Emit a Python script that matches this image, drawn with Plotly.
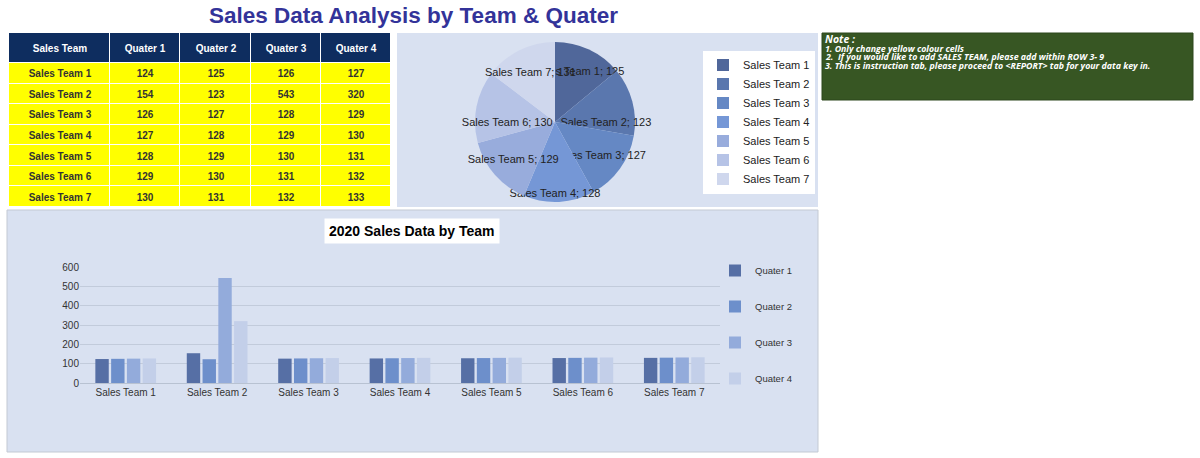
import plotly.graph_objects as go

W, H = 1200, 458

def px(x):
    return x / W

def py(y):
    return 1 - y / H

# ---------------- data ----------------
teams = ["Sales Team 1", "Sales Team 2", "Sales Team 3", "Sales Team 4",
         "Sales Team 5", "Sales Team 6", "Sales Team 7"]
quarter_names = ["Quater 1", "Quater 2", "Quater 3", "Quater 4"]
table_header = ["Sales Team"] + quarter_names
q1 = [124, 154, 126, 127, 128, 129, 130]
q2 = [125, 123, 127, 128, 129, 130, 131]
q3 = [126, 543, 128, 129, 130, 131, 132]
q4 = [127, 320, 129, 130, 131, 132, 133]
quarters = [q1, q2, q3, q4]

# ---------------- styles ----------------
bar_colors = ["#566fa5", "#6d8fcb", "#93abdb", "#c3cfe9"]
pie_colors = ["#50679a", "#5a77ae", "#6588c4", "#7597d6", "#98acdc", "#b6c3e6", "#cfd7ed"]
FONT = "Liberation Sans, Arial, sans-serif"
COL_W = [101, 70, 70, 70, 70]          # table column widths (px)
HEADER_H = 30                          # table header height (px)
ROW_H = 20.57                          # table body row height (px)

col_edges = [0]
for w in COL_W:
    col_edges.append(col_edges[-1] + w)
row_edges = [HEADER_H + i * ROW_H for i in range(len(teams) + 1)]

fig = go.Figure()

# ---- Table drawn as heatmap cells ----
fig.add_trace(go.Heatmap(
    x=col_edges, y=[0, HEADER_H],
    z=[[0] * len(table_header)],
    text=[table_header],
    texttemplate="%{text}",
    textfont=dict(family=FONT, size=10, color="#ffffff", weight="bold"),
    colorscale=[[0, "#0e2d5f"], [1, "#0e2d5f"]],
    showscale=False, xgap=1, ygap=1,
    xaxis="x2", yaxis="y2", hoverinfo="skip",
))
body_text = [[t] + [str(q[i]) for q in quarters] for i, t in enumerate(teams)]
fig.add_trace(go.Heatmap(
    x=col_edges, y=row_edges,
    z=[[1] * len(table_header) for _ in teams],
    text=body_text,
    texttemplate="%{text}",
    textfont=dict(family=FONT, size=10, color="#333333", weight="bold"),
    colorscale=[[0, "#ffff00"], [1, "#ffff00"]],
    showscale=False, xgap=1, ygap=1,
    xaxis="x2", yaxis="y2", hoverinfo="skip",
))

# ---- Pie ----
fig.add_trace(go.Pie(
    labels=teams,
    values=q2,
    domain=dict(x=[px(475), px(635)], y=[py(202), py(42)]),
    sort=False,
    direction="clockwise",
    rotation=0,
    marker=dict(colors=pie_colors, line=dict(width=0)),
    texttemplate="%{label}; %{value}",
    textposition="inside",
    insidetextorientation="horizontal",
    textfont=dict(family=FONT, size=11, color="#222222"),
    legend="legend",
    showlegend=True,
    hoverinfo="label+value",
))

# ---- Bars ----
for name, vals, col in zip(quarter_names, quarters, bar_colors):
    fig.add_trace(go.Bar(
        x=teams, y=vals, name=name, marker=dict(color=col, line=dict(width=0)),
        legend="legend2", legendgroup=name,
    ))

shapes = [
    dict(type="rect", xref="paper", yref="paper", x0=px(397), x1=px(818), y0=py(207), y1=py(33),
         fillcolor="#d9e1f1", line=dict(width=0), layer="below"),
    dict(type="rect", xref="paper", yref="paper", x0=px(7), x1=px(818), y0=py(452), y1=py(210),
         fillcolor="#d9e1f1", line=dict(color="#c3c9d3", width=1), layer="below"),
    dict(type="rect", xref="paper", yref="paper", x0=px(822), x1=px(1193), y0=py(100), y1=py(33),
         fillcolor="#375623", line=dict(color="#2c461c", width=1), layer="below"),
]

note_lines = [
    "1. Only change yellow colour cells",
    "2.  If you would like to add SALES TEAM, please add within ROW 3- 9",
    "3. This is instruction tab, please proceed to &lt;REPORT&gt; tab for your data key in.",
]

annotations = [
    dict(text="<b>Sales Data Analysis by Team & Quater</b>", xref="paper", yref="paper",
         x=px(414), y=py(15), xanchor="center", yanchor="middle", showarrow=False,
         font=dict(family=FONT, size=22.5, color="#333399")),
    dict(text="<b>2020 Sales Data by Team</b>", xref="paper", yref="paper",
         x=px(412), y=py(231), xanchor="center", yanchor="middle", showarrow=False,
         bgcolor="#ffffff", borderpad=4,
         font=dict(family=FONT, size=14, color="#000000")),
    dict(text="<b><i>Note :</i></b>", xref="paper", yref="paper",
         x=px(823), y=py(38.5), xanchor="left", yanchor="middle", showarrow=False,
         font=dict(family="Open Sans, sans-serif", size=10.5, color="#ffffff")),
]
for i, line in enumerate(note_lines):
    annotations.append(dict(
        text=f"<b><i>{line}</i></b>", xref="paper", yref="paper",
        x=px(823), y=py(48.8 + i * 8.7), xanchor="left", yanchor="middle", showarrow=False,
        font=dict(family="Open Sans, sans-serif", size=8.8, color="#ffffff")))

fig.update_layout(
    width=W, height=H,
    margin=dict(l=0, r=0, t=0, b=0, autoexpand=False),
    paper_bgcolor="#ffffff",
    plot_bgcolor="rgba(0,0,0,0)",
    font=dict(family=FONT, color="#333333"),
    shapes=shapes,
    annotations=annotations,
    barmode="group",
    bargap=0.31,
    bargroupgap=0.15,
    uniformtext=dict(minsize=11, mode="show"),
    xaxis=dict(domain=[px(80), px(720)], anchor="y",
               tickfont=dict(size=10, color="#333333"), showline=True,
               linecolor="#b8c2d2", ticks="", showgrid=False, fixedrange=True),
    yaxis=dict(domain=[py(383), py(267)], anchor="x", range=[0, 600], dtick=100,
               tickfont=dict(size=10, color="#333333"), gridcolor="#c2cbdb",
               zeroline=False, ticks="", fixedrange=True),
    xaxis2=dict(domain=[px(9), px(391)], anchor="y2", range=[col_edges[0], col_edges[-1]],
                visible=False, fixedrange=True),
    yaxis2=dict(domain=[py(207), py(33)], anchor="x2", range=[row_edges[-1], 0],
                visible=False, fixedrange=True),
    legend=dict(x=px(703), y=py(122), xanchor="left", yanchor="middle",
                bgcolor="#ffffff", font=dict(family=FONT, size=11, color="#222222"),
                itemwidth=30, tracegroupgap=0),
    legend2=dict(x=px(715), y=py(256), xanchor="left", yanchor="top",
                 bgcolor="rgba(0,0,0,0)", font=dict(family=FONT, size=9.5, color="#333333"),
                 tracegroupgap=17, itemwidth=30),
)

fig.write_html("out.html")
